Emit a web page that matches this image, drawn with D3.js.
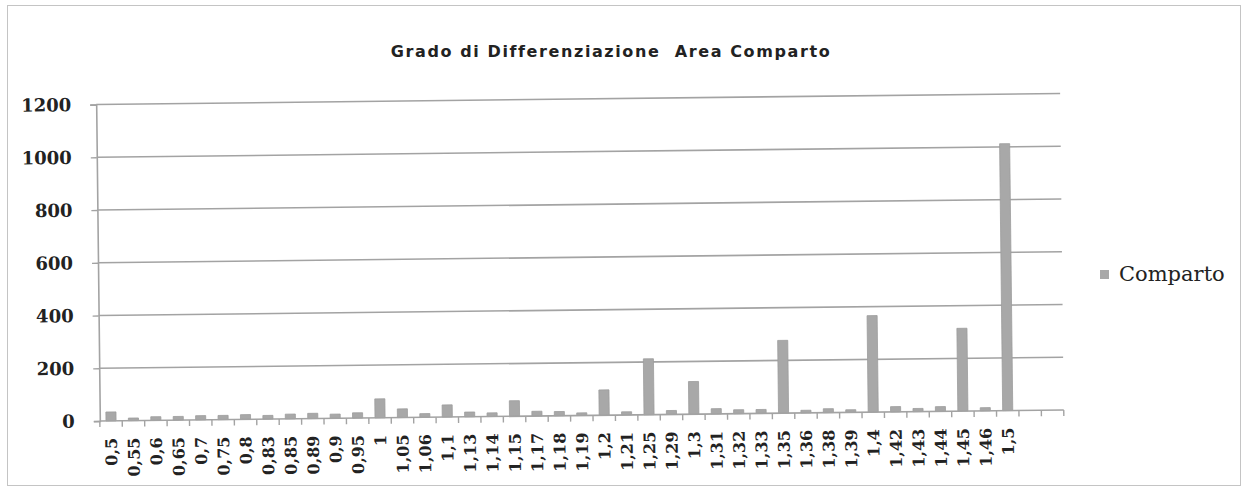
<!DOCTYPE html>
<html>
<head>
<meta charset="utf-8">
<script src="https://cdn.jsdelivr.net/npm/d3@7"></script>
<style>
  body { margin: 0; background: #fff; }
  svg { display: block; }
</style>
</head>
<body>
<script>
'use strict';

// x categories (Italian decimal comma), last two are empty slots on the axis
const categories = ["0,5","0,55","0,6","0,65","0,7","0,75","0,8","0,83","0,85","0,89","0,9","0,95",
  "1","1,05","1,06","1,1","1,13","1,14","1,15","1,17","1,18","1,19","1,2","1,21","1,25","1,29",
  "1,3","1,31","1,32","1,33","1,35","1,36","1,38","1,39","1,4","1,42","1,43","1,44","1,45","1,46",
  "1,5","",""];
// Comparto values
const comparto = [34, 10, 14, 14, 16, 16, 18, 14, 18, 20, 16, 20,
  72, 33, 14, 46, 18, 14, 59, 18, 16, 10, 96, 12, 212, 15,
  124, 20, 15, 15, 276, 10, 15, 10, 366, 20, 12, 18, 314, 12,
  1012, null, null];
const yTicks = [0, 200, 400, 600, 800, 1000, 1200];
const seriesName = "Comparto";
const chartTitle = "Grado di Differenziazione  Area Comparto";

const width = 1244, height = 493;
const svg = d3.select('body').append('svg')
  .attr('width', width)
  .attr('height', height);

// outer chart border
svg.append('rect')
  .attr('x', 7.5).attr('y', 5.5)
  .attr('width', 1233).attr('height', 480)
  .attr('fill', 'none')
  .attr('stroke', '#c4c4c4')
  .attr('stroke-width', 1);

// the scan is slightly tilted, so the plot is drawn in a rotated group
const plot = svg.append('g')
  .attr('transform', 'rotate(-0.66, 580, 260)');

const x = d3.scaleBand()
  .domain(d3.range(categories.length))
  .range([98, 1062])
  .paddingInner(0.55)
  .paddingOuter(0.275);

const y = d3.scaleLinear()
  .domain([0, 1200])
  .range([415.5, 99]);

// gridlines
plot.append('g').selectAll('line')
  .data(yTicks.slice(1))
  .enter().append('line')
    .attr('x1', 98).attr('x2', 1062)
    .attr('y1', d => y(d)).attr('y2', d => y(d))
    .attr('stroke', '#a3a3a3')
    .attr('stroke-width', 1.6);

// y axis
const yAxis = d3.axisLeft(y).tickValues(yTicks).tickFormat(d3.format('d'))
  .tickSize(6).tickPadding(19);
const gy = plot.append('g')
  .attr('transform', 'translate(98,0)')
  .call(yAxis);
gy.select('.domain').attr('stroke', '#a3a3a3').attr('stroke-width', 1.6);
gy.selectAll('.tick line').attr('stroke', '#a3a3a3').attr('stroke-width', 1.4);
gy.selectAll('.tick text')
  .attr('fill', '#222')
  .style('font-family', '"DejaVu Serif", serif')
  .style('font-weight', 'bold')
  .style('font-size', '18px');

// bars
const step = x.step();
plot.append('g').selectAll('rect')
  .data(comparto.map((v, i) => ({i: i, v: v})).filter(d => d.v != null))
  .enter().append('rect')
    .attr('x', d => x(d.i))
    .attr('width', x.bandwidth())
    .attr('y', d => y(d.v))
    .attr('height', d => y(0) - y(d.v))
    .attr('fill', '#a8a8a8')
    .attr('stroke', '#9c9c9c')
    .attr('stroke-width', 0.8);

// x axis line and category boundary ticks
plot.append('line')
  .attr('x1', 98).attr('x2', 1062)
  .attr('y1', y(0)).attr('y2', y(0))
  .attr('stroke', '#a3a3a3')
  .attr('stroke-width', 1.6);

const bounds = d3.range(categories.length + 1).map(i => 98 + i * step);
plot.append('g').selectAll('line')
  .data(bounds)
  .enter().append('line')
    .attr('x1', d => d).attr('x2', d => d)
    .attr('y1', y(0)).attr('y2', y(0) + 6)
    .attr('stroke', '#a3a3a3')
    .attr('stroke-width', 1.4);

// rotated category labels
plot.append('g').selectAll('text')
  .data(categories)
  .enter().append('text')
    .attr('transform', (d, i) => 'translate(' + (x(i) + x.bandwidth() / 2) + ',' + (y(0) + 17) + ')rotate(-90)')
    .attr('dy', '0.36em')
    .attr('text-anchor', 'end')
    .attr('fill', '#222')
    .style('font-family', '"DejaVu Serif", serif')
    .style('font-weight', 'bold')
    .style('font-size', '16px')
    .text(d => d);

// title
svg.append('text')
  .attr('x', 611)
  .attr('y', 57)
  .attr('text-anchor', 'middle')
  .attr('fill', '#222')
  .style('white-space', 'pre')
  .style('font-family', '"DejaVu Sans", sans-serif')
  .style('font-weight', 'bold')
  .style('font-size', '16px')
  .style('letter-spacing', '1.6px')
  .text(chartTitle);

// legend
svg.append('rect')
  .attr('x', 1100).attr('y', 270)
  .attr('width', 9).attr('height', 9)
  .attr('fill', '#a8a8a8');
svg.append('text')
  .attr('x', 1119)
  .attr('y', 281)
  .attr('fill', '#222')
  .style('font-family', '"DejaVu Serif", serif')
  .style('font-size', '21px')
  .text(seriesName);
</script>
</body>
</html>
